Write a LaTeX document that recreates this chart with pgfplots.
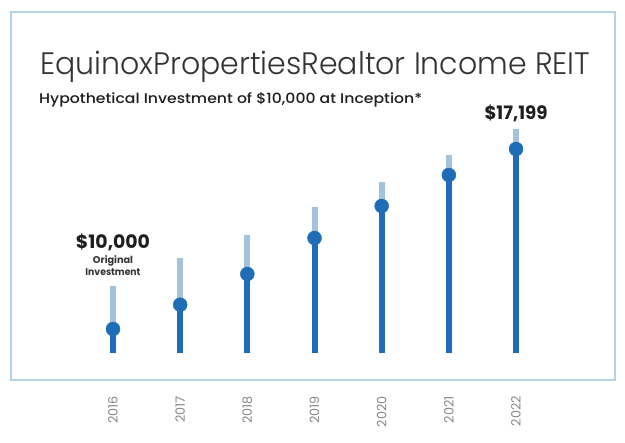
\documentclass[border=0pt]{standalone}
\usepackage{pgfplots}
\pgfplotsset{compat=1.18}
\usepackage{pgfplotstable}
\usepackage{graphicx}
\usepackage{fontspec}
\setmainfont{Poppins}
\newfontfamily\lightfont{Poppins Light}
\newfontfamily\mediumfont{Poppins Medium}
\definecolor{dark}{HTML}{1F6DB9}
\definecolor{light}{HTML}{A3C2DC}
\definecolor{framecol}{HTML}{B3D3EA}
\definecolor{tickcol}{HTML}{888888}
\definecolor{titlecol}{HTML}{333333}
\definecolor{textcol}{HTML}{1E1E1E}

\pgfplotstableread{
x dot top
0 10000 11720
1 10970 12830
2 12200 13770
3 13640 14880
4 14920 15880
5 16160 16960
6 17199 17990
}\data

\begin{document}
\begin{tikzpicture}
\begin{axis}[
  scale only axis,
  width=604pt, height=368pt,
  xmin=-1.5186, xmax=7.4736,
  ymin=7960, ymax=22680,
  clip=false,
  axis line style={framecol, line width=1.2pt},
  xtick={0,1,2,3,4,5,6},
  xticklabels={2016,2017,2018,2019,2020,2021,2022},
  ytick=\empty,
  major tick length=0pt,
  xticklabel shift=16pt,
  xticklabel style={rotate=90, anchor=east, inner sep=0pt, text=tickcol, font=\fontsize{12.8}{12.8}\selectfont},
]
\path (axis cs:-1.6823,5480) rectangle (axis cs:7.6225,23160);
% light upper bars
\addplot [only marks, mark=*, mark size=0pt, mark options={draw=none, fill=none}, forget plot,
  error bars/.cd, y dir=minus, y explicit, error mark=none,
  error bar style={line width=6pt, color=light}]
  table [x=x, y=top, y error expr=\thisrow{top}-9040] {\data};
% dark lower bars
\addplot [only marks, mark=*, mark size=0pt, mark options={draw=none, fill=none}, forget plot,
  error bars/.cd, y dir=minus, y explicit, error mark=none,
  error bar style={line width=6pt, color=dark}]
  table [x=x, y=dot, y error expr=\thisrow{dot}-9040] {\data};
% dots
\addplot [only marks, mark=*, mark size=7pt, color=dark, mark options={draw=dark, fill=dark}]
  table [x=x, y=dot] {\data};

\node[anchor=base west, inner sep=0pt, text=titlecol] at (axis cs:-1.0868,20172)
  {\resizebox{550pt}{\height}{\lightfont\fontsize{31}{31}\selectfont EquinoxPropertiesRealtor Income REIT}};
\node[anchor=base west, inner sep=0pt, text=textcol] at (axis cs:-1.1017,19028)
  {\resizebox{383pt}{\height}{\mediumfont\fontsize{14}{14}\selectfont Hypothetical Investment of \$10,000 at Inception*}};
\node[anchor=base, inner sep=0pt, text=textcol] at (axis cs:0,13240)
  {\resizebox{74pt}{\height}{\bfseries\fontsize{18.5}{18.5}\selectfont \$10,000}};
\node[anchor=base, inner sep=0pt, text=titlecol] at (axis cs:0,12640)
  {\resizebox{40pt}{\height}{\bfseries\fontsize{9.8}{9.8}\selectfont Original}};
\node[anchor=base, inner sep=0pt, text=titlecol] at (axis cs:0,12160)
  {\resizebox{55pt}{\height}{\bfseries\fontsize{9.8}{9.8}\selectfont Investment}};
\node[anchor=base, inner sep=0pt, text=textcol] at (axis cs:6,18360)
  {\resizebox{63pt}{\height}{\bfseries\fontsize{18.5}{18.5}\selectfont \$17,199}};
\end{axis}
\end{tikzpicture}
\end{document}
